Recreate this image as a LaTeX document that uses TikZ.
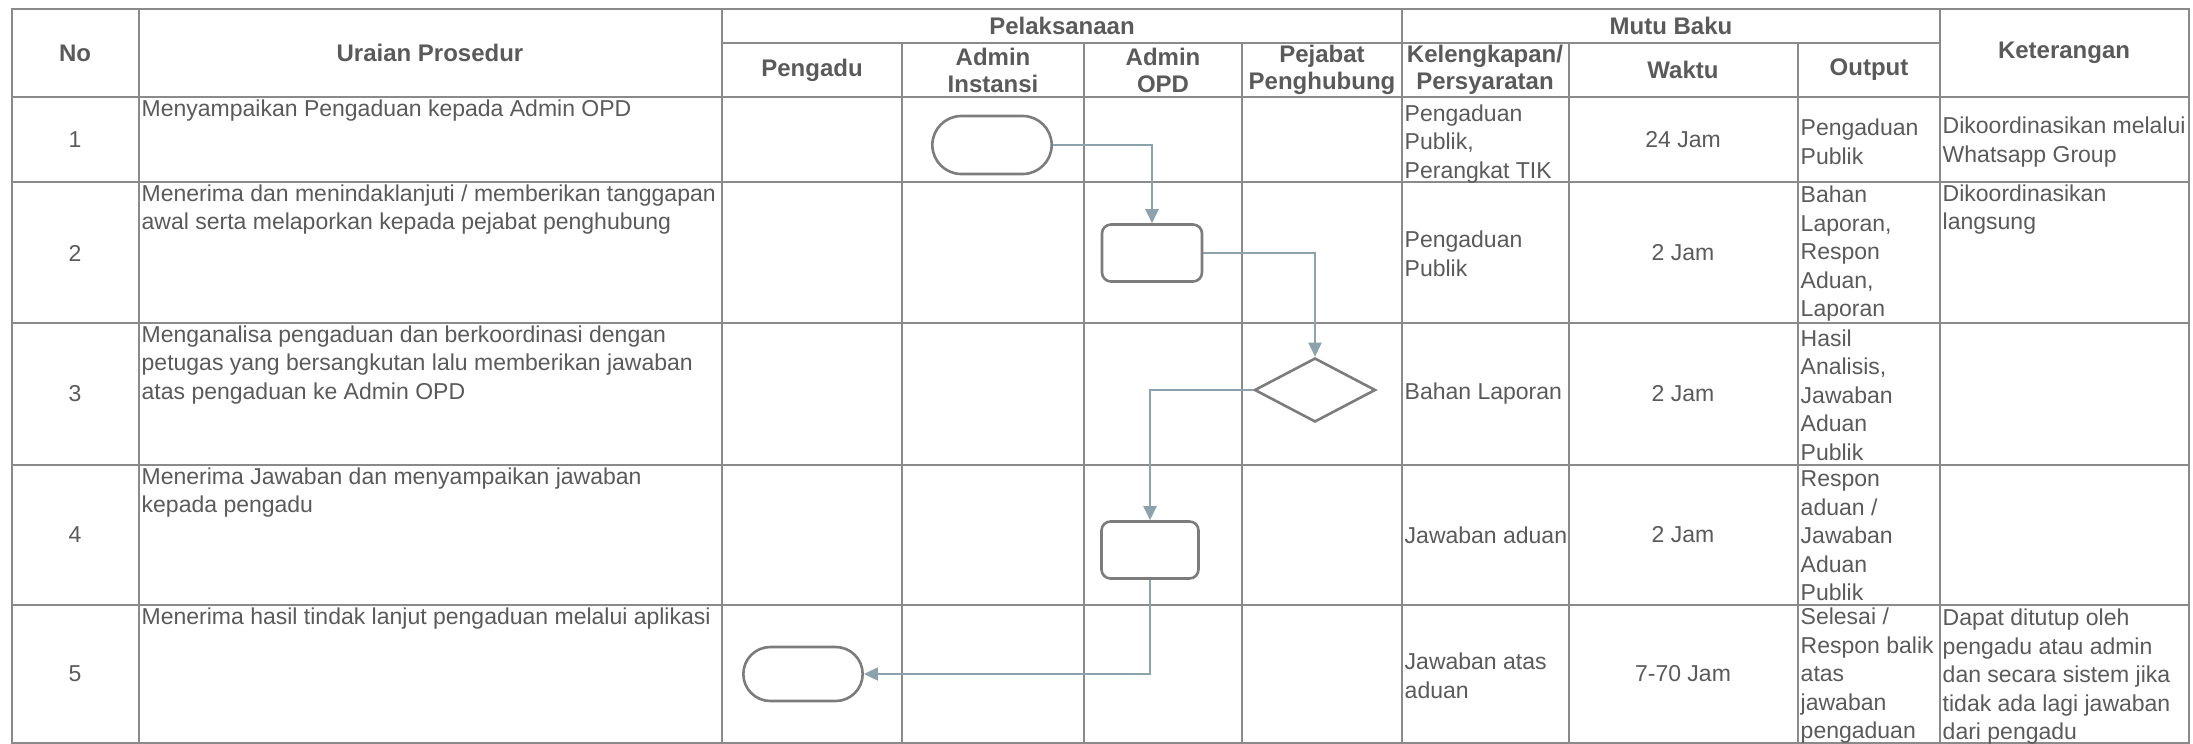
\documentclass[tikz,border=0pt]{standalone}
\usepackage{fontspec}
\setmainfont{Liberation Sans}
\usetikzlibrary{positioning, shapes.misc, shapes.geometric, arrows.meta}

\definecolor{txtgray}{HTML}{5A5A5A}
\definecolor{linegray}{HTML}{8A8A8A}
\definecolor{shapegray}{HTML}{7C7C7C}
\definecolor{flowblue}{HTML}{8CA3AE}

\tikzset{
  tline/.style={draw=linegray, line width=1.6pt},
  hd/.style={font=\fontsize{24}{27}\selectfont\bfseries, text=txtgray, align=center, inner sep=0pt},
  cell/.style={font=\fontsize{23}{28.5}\selectfont, text=txtgray, align=left, inner sep=1.5pt},
  num/.style={font=\fontsize{23}{25}\selectfont, text=txtgray},
  term/.style={rounded rectangle, draw=shapegray, line width=2.6pt, minimum width=126pt, minimum height=58pt},
  proc/.style={rectangle, rounded corners=9pt, draw=shapegray, line width=2.6pt, minimum width=100pt, minimum height=57pt},
  dec/.style={diamond, draw=shapegray, line width=2.6pt, inner sep=0pt, minimum width=121pt, minimum height=64pt},
  flow/.style={draw=flowblue, line width=2.2pt, -{Triangle[length=14pt, width=13pt]}}
}

\begin{document}
\begin{tikzpicture}[x=1pt, y=-1pt]
  \useasboundingbox (0,0) rectangle (2193,744);

  % table lines
  \draw[tline] (12,9) rectangle (2189,743);
  \draw[tline] (12,97) -- (2189,97);
  \draw[tline] (12,182) -- (2189,182);
  \draw[tline] (12,323) -- (2189,323);
  \draw[tline] (12,465) -- (2189,465);
  \draw[tline] (12,605) -- (2189,605);
  \draw[tline] (722,43) -- (1940,43);
  \draw[tline] (139,9) -- (139,743);
  \draw[tline] (722,9) -- (722,743);
  \draw[tline] (1402,9) -- (1402,743);
  \draw[tline] (1940,9) -- (1940,743);
  \draw[tline] (902,43) -- (902,743);
  \draw[tline] (1084,43) -- (1084,743);
  \draw[tline] (1242,43) -- (1242,743);
  \draw[tline] (1569,43) -- (1569,743);
  \draw[tline] (1798,43) -- (1798,743);

  % header
  \node[hd] (hNo) at (75,53) {No};
  \node[hd] (hUraian) at (430,53) {Uraian Prosedur};
  \node[hd] (hPelaksanaan) at (1062,26) {Pelaksanaan};
  \node[hd] (hMutu) at (1671,26) {Mutu Baku};
  \node[hd] (hKet) at (2064,53) {Keterangan};
  \node[hd] (hPengadu) at (812,70) {Pengadu};
  \node[hd] (hInstansi) at (993,70) {Admin\\Instansi};
  \node[hd] (hOPD) at (1163,70) {Admin\\OPD};
  \node[hd] (hPejabat) at (1322,70) {Pejabat\\Penghubung};
  \node[hd] (hSyarat) at (1485,70) {Kelengkapan/\\Persyaratan};
  \node[hd] (hWaktu) at (1683,70) {Waktu};
  \node[hd] (hOutput) at (1869,70) {Output};

  % nomor
  \node[num] (n1) at (75,140) {1};
  \node[num] (n2) at (75,253) {2};
  \node[num] (n3) at (75,394) {3};
  \node[num] (n4) at (75,535) {4};
  \node[num] (n5) at (75,674) {5};

  % uraian prosedur
  \node[cell, anchor=north west] (u1) at (140,98) {Menyampaikan Pengaduan kepada Admin OPD};
  \node[cell, anchor=north west] (u2) at (140,183) {Menerima dan menindaklanjuti / memberikan tanggapan\\awal serta melaporkan kepada pejabat penghubung};
  \node[cell, anchor=north west] (u3) at (140,324) {Menganalisa pengaduan dan berkoordinasi dengan\\petugas yang bersangkutan lalu memberikan jawaban\\atas pengaduan ke Admin OPD};
  \node[cell, anchor=north west] (u4) at (140,466) {Menerima Jawaban dan menyampaikan jawaban\\kepada pengadu};
  \node[cell, anchor=north west] (u5) at (140,606) {Menerima hasil tindak lanjut pengaduan melalui aplikasi};

  % kelengkapan / persyaratan
  \node[cell, anchor=west] (k1) at (1403,144) {Pengaduan\\Publik,\\Perangkat TIK};
  \node[cell, anchor=west] (k2) at (1403,254) {Pengaduan\\Publik};
  \node[cell, anchor=west] (k3) at (1403,394) {Bahan Laporan};
  \node[cell, anchor=west] (k4) at (1403,535) {Jawaban aduan};
  \node[cell, anchor=west] (k5) at (1403,676) {Jawaban atas\\aduan};

  % waktu
  \node[cell] (w1) at (1683,140) {24 Jam};
  \node[cell] (w2) at (1683,253) {2 Jam};
  \node[cell] (w3) at (1683,394) {2 Jam};
  \node[cell] (w4) at (1683,535) {2 Jam};
  \node[cell] (w5) at (1683,674) {7-70 Jam};

  % output
  \node[cell, anchor=west] (o1) at (1799,142) {Pengaduan\\Publik};
  \node[cell, anchor=west] (o2) at (1799,254) {Bahan\\Laporan,\\Respon\\Aduan,\\Laporan};
  \node[cell, anchor=west] (o3) at (1799,395) {Hasil\\Analisis,\\Jawaban\\Aduan\\Publik};
  \node[cell, anchor=west] (o4) at (1799,536) {Respon\\aduan /\\Jawaban\\Aduan\\Publik};
  \node[cell, anchor=west] (o5) at (1799,676) {Selesai /\\Respon balik\\atas\\jawaban\\pengaduan};

  % keterangan
  \node[cell, anchor=west] (ket1) at (1941,142) {Dikoordinasikan melalui\\Whatsapp Group};
  \node[cell, anchor=north west] (ket2) at (1941,183) {Dikoordinasikan\\langsung};
  \node[cell, anchor=west] (ket5) at (1941,677) {Dapat ditutup oleh\\pengadu atau admin\\dan secara sistem jika\\tidak ada lagi jawaban\\dari pengadu};

  % alur
  \node[term] (t1) at (992,145) {};
  \node[proc] (p2) at (1152,253) {};
  \node[dec] (d3) at (1315,390) {};
  \node[proc, minimum width=97pt] (p4) at (1150,550) {};
  \node[term, minimum height=54pt] (t5) at (803,674) {};

  \draw[flow] (t1.east) -| (p2.north);
  \draw[flow] (p2.east) -| (d3.north);
  \draw[flow] (d3.west) -| (p4.north);
  \draw[flow] (p4.south) |- (t5.east);
\end{tikzpicture}
\end{document}
